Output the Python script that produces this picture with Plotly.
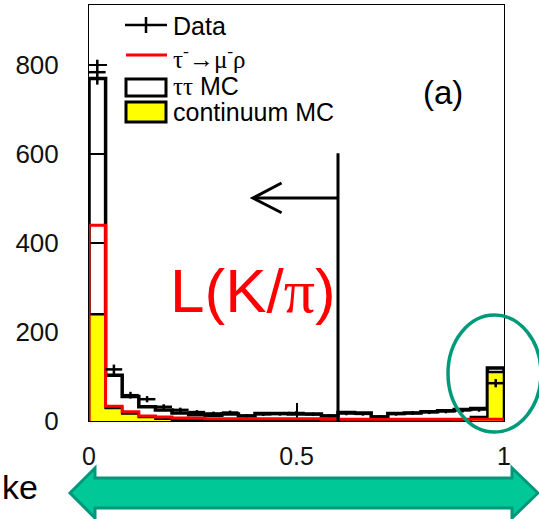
import numpy as np
import plotly.graph_objects as go

# ---- data (25 bins of width 0.04 over [0, 1]) ----
bin_edges = [round(0.04 * i, 2) for i in range(26)]
data_counts = [784, 116, 58, 49, 32, 25, 20, 17, 19, 12, 15, 16, 18, 15, 12, 17, 16, 10, 16, 18, 20, 22, 24, 26, 85]
tautau_mc = [770, 103, 55, 32, 25, 18, 14, 13, 16, 11, 17, 17, 16, 16, 11, 19, 18, 9, 17, 18, 21, 23, 26, 28, 119]
continuum_mc = [240, 29, 17, 9, 5, 3, 2, 2, 1, 1, 1, 1, 1, 1, 1, 1, 1, 1, 1, 1, 1, 2, 3, 9, 110]
signal_mc = [440, 33, 21, 11, 9, 7, 6, 5, 5, 5, 5, 5, 5, 5, 4, 4, 4, 4, 4, 4, 4, 4, 4, 4, 4]
x_ticks = [0, 0.5, 1]
x_ticklabels = ["0", "0.5", "1"]
y_ticks = [0, 200, 400, 600, 800]
y_ticklabels = ["0", "200", "400", "600", "800"]
cut_value = 0.6

W, H = 539, 519
L_PX, R_PX, T_PX, B_PX = 89, 504, 5, 421
Y_MAX = 935

def step_xy(vals):
    xs = [bin_edges[0]] + bin_edges[:-1] + [bin_edges[-1]]
    ys = [0] + list(vals) + [0]
    return xs, ys

def px(p):
    return (p - L_PX) / (R_PX - L_PX)

def py(p):
    return (B_PX - p) / (B_PX - T_PX)

centers = [(bin_edges[i] + bin_edges[i + 1]) / 2 for i in range(25)]
half_w = [(bin_edges[i + 1] - bin_edges[i]) / 2 for i in range(25)]

fig = go.Figure()

x, y = step_xy(tautau_mc)
fig.add_trace(go.Scatter(x=x, y=y, mode="lines", line=dict(color="black", width=3.5, shape="hv"),
                         hoverinfo="skip"))
x, y = step_xy(continuum_mc)
fig.add_trace(go.Scatter(x=x, y=y, mode="lines", fill="tozeroy", fillcolor="#FFFF00",
                         line=dict(color="black", width=2.5, shape="hv"), hoverinfo="skip"))
x, y = step_xy(signal_mc)
fig.add_trace(go.Scatter(x=x, y=y, mode="lines", line=dict(color="#FF0000", width=3, shape="hv"),
                         hoverinfo="skip"))
fig.add_trace(go.Scatter(
    x=centers, y=data_counts, mode="markers",
    marker=dict(size=1, color="black"),
    error_x=dict(type="data", array=half_w, width=0, thickness=2.5, color="black"),
    error_y=dict(type="data", array=list(np.sqrt(data_counts)), width=0, thickness=2.5, color="black"),
))

font_main = "Liberation Sans, Arial, sans-serif"

fig.update_layout(
    width=W, height=H,
    margin=dict(l=L_PX, r=W - R_PX, t=T_PX, b=H - B_PX),
    paper_bgcolor="white", plot_bgcolor="white",
    showlegend=False,
    font=dict(family=font_main, color="black"),
    xaxis=dict(range=[0, 1], tickvals=x_ticks, ticktext=x_ticklabels, ticks="inside", ticklen=18,
               tickwidth=2, tickcolor="black", showline=True, linecolor="black", linewidth=1,
               mirror=True, showgrid=False, zeroline=False, layer="below traces",
               tickfont=dict(size=25, family=font_main, color="#111"), ticklabelstandoff=13),
    yaxis=dict(range=[0, Y_MAX], tickvals=y_ticks, ticktext=y_ticklabels, ticks="inside", ticklen=18,
               tickwidth=2, tickcolor="black", showline=True, linecolor="black", linewidth=1,
               mirror=True, showgrid=False, zeroline=False, layer="below traces",
               tickfont=dict(size=26, family=font_main, color="#111"), ticklabelstandoff=24),
)

# cut line and arrow (data coordinates)
fig.add_shape(type="line", xref="x", yref="y", x0=cut_value, x1=cut_value, y0=0, y1=602,
              line=dict(color="black", width=3))
fig.add_shape(type="line", xref="x", yref="y", x0=cut_value, x1=0.395, y0=501, y1=501,
              line=dict(color="black", width=3))
fig.add_shape(type="path", xref="x", yref="y", path="M 0.464,535 L 0.395,501 L 0.464,468",
              line=dict(color="black", width=3))

# legend drawn by hand
fig.add_shape(type="line", xref="paper", yref="paper", x0=px(125), x1=px(167), y0=py(25), y1=py(25),
              line=dict(color="black", width=2.5))
fig.add_shape(type="line", xref="paper", yref="paper", x0=px(146), x1=px(146), y0=py(17), y1=py(33),
              line=dict(color="black", width=2.5))
fig.add_shape(type="line", xref="paper", yref="paper", x0=px(126), x1=px(167), y0=py(55), y1=py(55),
              line=dict(color="#FF0000", width=3))
fig.add_shape(type="rect", xref="paper", yref="paper", x0=px(126), x1=px(166), y0=py(96), y1=py(79),
              line=dict(color="black", width=3), fillcolor="white")
fig.add_shape(type="rect", xref="paper", yref="paper", x0=px(126), x1=px(166), y0=py(122), y1=py(102),
              line=dict(color="black", width=3), fillcolor="#FFFF00")

legend_items = [("Data", 26), ("<span style='font-family:Liberation Serif'>τ<sup>-</sup>→μ<sup>-</sup>ρ</span>", 57),
                ("<span style='font-family:Liberation Serif'>ττ</span> MC", 86), ("continuum MC", 112)]
for txt, yy in legend_items:
    fig.add_annotation(x=px(171), y=py(yy), xref="paper", yref="paper", text=txt, showarrow=False,
                       xanchor="left", yanchor="middle", font=dict(size=25, family=font_main, color="black"))

fig.add_annotation(x=px(443), y=py(92), xref="paper", yref="paper", text="(a)", showarrow=False,
                   xanchor="center", yanchor="middle", font=dict(size=33, family=font_main, color="black"))

fig.add_annotation(x=px(253), y=py(290), xref="paper", yref="paper",
                   text="L(K/<span style='font-family:Liberation Serif'>π</span>)", showarrow=False,
                   xanchor="center", yanchor="middle", font=dict(size=62, family=font_main, color="#FF0000"))

fig.add_annotation(x=px(0), y=py(487), xref="paper", yref="paper", text="ke", showarrow=False,
                   xanchor="left", yanchor="middle", font=dict(size=34, family=font_main, color="black"))

# green ellipse
fig.add_shape(type="circle", xref="paper", yref="paper", x0=px(448), x1=px(541), y0=py(432), y1=py(315),
              line=dict(color="#009A7A", width=3.5), layer="above")

# green double arrow
pts = [(70, 493), (95, 468), (95, 478), (512, 478), (512, 468), (538, 493), (512, 518), (512, 508),
       (95, 508), (95, 518)]
path = "M " + " L ".join(f"{px(a):.5f},{py(b):.5f}" for a, b in pts) + " Z"
fig.add_shape(type="path", xref="paper", yref="paper", path=path, fillcolor="#00C896",
              line=dict(color="#00977A", width=3), layer="above")

fig.write_html("out.html", config={"displayModeBar": False},
               post_script="document.body.style.margin='0px';document.body.style.overflow='hidden';")
